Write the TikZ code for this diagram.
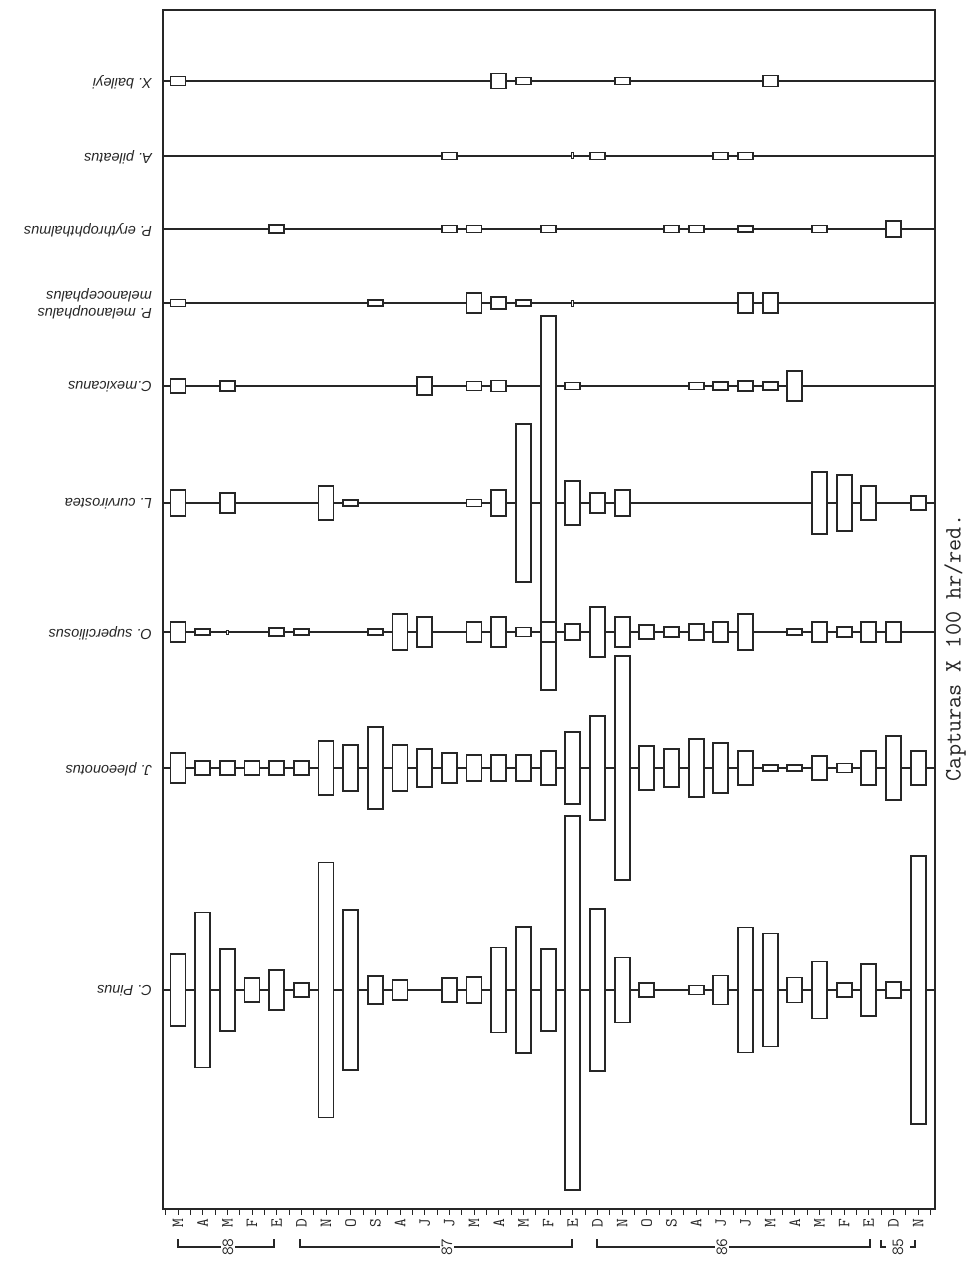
\documentclass[tikz,border=0pt]{standalone}
\usepackage{fontspec}
\newfontfamily\spfont{Liberation Sans}
\newcommand\kiterow[3]{%
  \coordinate (#1L) at (162,#2);
  \coordinate (#1R) at (934,#2);
  \draw[rowline] (#1L) -- (#1R);
  \foreach \c/\h in {#3} {\node[bx, minimum height=\h pt] (#1\c) at ({178+24.67*\c},#2) {};}
}
\begin{document}
\begin{tikzpicture}[x=1pt,y=-1pt]
\tikzset{
  ink/.style={draw=black!85},
  rowline/.style={ink, line width=1.7pt},
  bx/.style={ink, fill=white, inner sep=0pt, minimum width=15pt, line width=1.9pt},
  tickmark/.style={ink, fill=white, inner sep=0pt, minimum width=1.5pt, line width=1pt},
  sp/.style={font=\spfont\itshape\fontsize{14.5}{17}\selectfont, rotate=180, anchor=west, align=left, inner sep=0pt, text=black!85},
  mo/.style={font=\ttfamily\fontsize{17}{17}\selectfont, rotate=90, inner sep=0pt, text=black!85},
  yr/.style={font=\ttfamily\fontsize{17}{17}\selectfont, rotate=90, inner sep=1.5pt, fill=white, text=black!85},
  brk/.style={ink, line width=1.6pt},
}
\fill[white] (0,0) rectangle (977,1265);
\useasboundingbox (0,0) rectangle (977,1265);
% frame
\node[ink, line width=1.8pt, minimum width=772pt, minimum height=1199pt, anchor=north west, inner sep=0pt] (frame) at (162,9) {};
% rows
\kiterow{xb}{81}{0/9, 13/15, 14/7, 18/7, 24/11}
\kiterow{ap}{156}{11/7, 17/7, 22/7, 23/7}
\kiterow{pe}{229}{4/8, 11/7, 12/7, 15/7, 20/7, 21/7, 23/6, 26/7, 29/16}
\kiterow{pm}{303}{0/7, 8/6, 12/20, 13/12, 14/6, 23/20, 24/20}
\kiterow{cm}{386}{0/14, 2/10, 10/18, 12/9, 13/11, 16/7, 21/7, 22/8, 23/10, 24/8, 25/30}
\kiterow{lc}{503}{0/26, 2/20, 6/34, 7/6, 12/7, 13/26, 14/158, 15/374, 16/44, 17/20, 18/26, 26/62, 27/56, 28/34, 30/14}
\kiterow{os}{632}{0/20, 1/6, 4/8, 5/6, 8/6, 9/36, 10/30, 12/20, 13/30, 14/9, 15/20, 16/16, 17/50, 18/30, 19/14, 20/10, 21/16, 22/20, 23/36, 25/6, 26/20, 27/10, 28/20, 29/20}
\kiterow{jp}{768}{0/30, 1/14, 2/14, 3/14, 4/14, 5/14, 6/54, 7/46, 8/82, 9/46, 10/38, 11/30, 12/26, 13/26, 14/26, 15/34, 16/72, 17/104, 18/224, 19/44, 20/38, 21/58, 22/50, 23/34, 24/6, 25/6, 26/24, 27/9, 28/34, 29/64, 30/34}
\kiterow{cp}{990}{0/72, 1/155, 2/82, 3/24, 4/40, 5/14, 6/255, 7/160, 8/28, 9/20, 11/24, 12/26, 13/85, 14/126, 15/82, 17/162, 18/65, 19/14, 21/9, 22/29, 23/125, 24/113, 25/25, 26/57, 27/14, 28/52, 29/16, 30/268}
\node[bx, minimum height=374pt] (cp16) at ({178+24.67*16},1003) {};
% tiny marks
\node[tickmark, minimum height=6pt] (ap16) at ({178+24.67*16},156) {};
\node[tickmark, minimum height=6pt] (pm16) at ({178+24.67*16},303) {};
\node[tickmark, minimum height=4pt] (os2) at ({178+24.67*2},632) {};
% species labels
\node[sp] (lxb) at (152,82) {X. baileyi};
\node[sp] (lap) at (152,157) {A. pileatus};
\node[sp] (lpe) at (152,230) {P. erythrophthalmus};
\node[sp] (lpm) at (152,304) {P. melanouphalus\\melanocephalus};
\node[sp] (lcm) at (152,387) {C.mexicanus};
\node[sp] (llc) at (152,504) {L. curvirostea};
\node[sp] (los) at (152,633) {O. superciliosus};
\node[sp] (ljp) at (152,769) {J. pleeonotus};
\node[sp] (lcp) at (152,991) {C. Pinus};
% bottom ticks
\foreach \k in {-1,...,61} {\draw[ink, line width=1pt] ({178+12.335*\k},1208) -- ++(0,7);}
% month labels
\foreach \m [count=\i from 0] in {M,A,M,F,E,D,N,O,S,A,J,J,M,A,M,F,E,D,N,O,S,A,J,J,M,A,M,F,E,D,N}
  {\node[mo] (m\i) at ({178+24.67*\i},1223) {\m};}
% year brackets
\draw[brk] (178,1239) -- (178,1247) -- (274,1247) -- (274,1239);
\node[yr] (y88) at (228,1247) {88};
\draw[brk] (300,1239) -- (300,1247) -- (572,1247) -- (572,1239);
\node[yr] (y87) at (447,1247) {87};
\draw[brk] (597,1239) -- (597,1247) -- (870,1247) -- (870,1239);
\node[yr] (y86) at (722,1247) {86};
\draw[brk] (881,1240) -- (881,1247) -- (886,1247);
\draw[brk] (910,1247) -- (915,1247) -- (915,1240);
\node[yr] (y85) at (898,1247) {85};
% axis caption
\node[mo, font=\ttfamily\fontsize{23.5}{23.5}\selectfont] (cap) at (955,648) {Capturas X 100 hr/red.};
\end{tikzpicture}
\end{document}
